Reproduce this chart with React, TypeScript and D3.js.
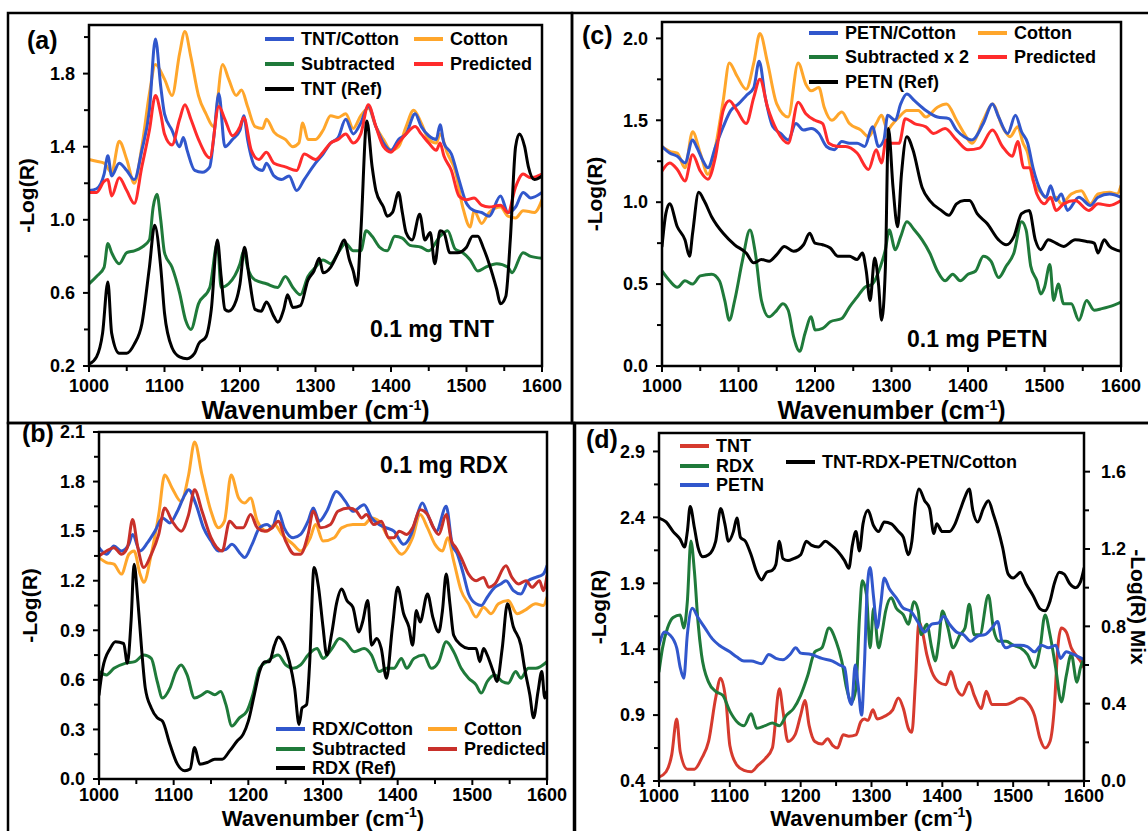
import React from 'react';
import * as d3 from 'd3';

type P = [number, number];

const FONT = "'Liberation Sans', Arial, Helvetica, sans-serif";

const xMajor = [1000, 1100, 1200, 1300, 1400, 1500, 1600];
const xMinor = [1050, 1150, 1250, 1350, 1450, 1550];

// ---------- Panel (a) TNT ----------
const aYMajor = [0.2, 0.6, 1.0, 1.4, 1.8];
const aYMinor = [0.4, 0.8, 1.2, 1.6, 2.0];
const aTntCotton: P[] = [[1000,1.16],[1010,1.17],[1020,1.25],[1025,1.35],[1030,1.24],[1040,1.31],[1050,1.27],[1060,1.22],[1070,1.38],[1080,1.60],[1088,1.99],[1095,1.73],[1100,1.58],[1110,1.49],[1120,1.40],[1125,1.45],[1130,1.38],[1140,1.27],[1150,1.26],[1160,1.29],[1165,1.44],[1172,1.69],[1180,1.40],[1190,1.44],[1200,1.49],[1205,1.57],[1210,1.44],[1220,1.29],[1230,1.27],[1235,1.31],[1245,1.24],[1255,1.22],[1265,1.24],[1275,1.16],[1285,1.22],[1300,1.31],[1310,1.36],[1320,1.42],[1330,1.45],[1340,1.55],[1350,1.47],[1360,1.53],[1370,1.62],[1380,1.51],[1390,1.42],[1400,1.38],[1410,1.44],[1420,1.47],[1432,1.58],[1440,1.51],[1450,1.46],[1460,1.44],[1465,1.52],[1470,1.42],[1480,1.36],[1490,1.22],[1500,1.09],[1510,1.05],[1520,1.04],[1530,1.02],[1545,1.13],[1555,1.04],[1565,1.07],[1575,1.15],[1585,1.12],[1600,1.15]];
const aCotton: P[] = [[1000,1.33],[1010,1.32],[1020,1.31],[1030,1.26],[1040,1.43],[1050,1.33],[1060,1.20],[1070,1.40],[1080,1.69],[1088,1.85],[1100,1.77],[1110,1.68],[1120,1.91],[1127,2.03],[1135,1.89],[1145,1.68],[1155,1.58],[1165,1.51],[1177,1.85],[1185,1.77],[1195,1.68],[1202,1.71],[1210,1.62],[1220,1.51],[1230,1.50],[1235,1.55],[1245,1.48],[1260,1.44],[1270,1.40],[1278,1.42],[1283,1.53],[1290,1.44],[1300,1.44],[1310,1.49],[1320,1.57],[1330,1.56],[1340,1.58],[1350,1.50],[1360,1.57],[1370,1.61],[1380,1.51],[1390,1.44],[1400,1.38],[1410,1.40],[1420,1.51],[1430,1.60],[1440,1.53],[1450,1.44],[1460,1.42],[1465,1.47],[1475,1.36],[1485,1.27],[1495,1.07],[1505,0.96],[1510,1.05],[1520,0.98],[1530,1.04],[1545,1.07],[1555,1.02],[1565,1.01],[1575,1.05],[1590,1.04],[1600,1.11]];
const aPredicted: P[] = [[1000,1.15],[1010,1.15],[1020,1.21],[1025,1.22],[1030,1.13],[1040,1.23],[1050,1.16],[1060,1.09],[1070,1.29],[1080,1.49],[1088,1.68],[1095,1.58],[1100,1.47],[1110,1.41],[1120,1.55],[1127,1.63],[1135,1.55],[1145,1.44],[1160,1.34],[1172,1.62],[1180,1.55],[1190,1.46],[1200,1.51],[1205,1.56],[1215,1.38],[1225,1.33],[1235,1.37],[1245,1.31],[1260,1.29],[1275,1.27],[1285,1.36],[1300,1.33],[1310,1.37],[1320,1.42],[1330,1.44],[1340,1.47],[1350,1.42],[1360,1.47],[1370,1.63],[1380,1.51],[1390,1.40],[1400,1.37],[1410,1.42],[1420,1.47],[1432,1.51],[1440,1.47],[1450,1.42],[1460,1.38],[1465,1.42],[1470,1.35],[1480,1.27],[1490,1.13],[1500,1.11],[1510,1.12],[1520,1.08],[1530,1.07],[1545,1.08],[1555,1.04],[1565,1.18],[1575,1.25],[1585,1.23],[1600,1.25]];
const aSubtracted: P[] = [[1000,0.65],[1010,0.69],[1020,0.74],[1025,0.87],[1030,0.82],[1040,0.76],[1050,0.82],[1060,0.83],[1070,0.85],[1080,0.89],[1085,1.07],[1090,1.14],[1095,1.00],[1100,0.82],[1110,0.74],[1120,0.60],[1128,0.45],[1135,0.40],[1145,0.54],[1160,0.63],[1170,0.87],[1175,0.63],[1185,0.65],[1200,0.76],[1205,0.83],[1210,0.74],[1220,0.67],[1235,0.65],[1250,0.63],[1260,0.69],[1270,0.63],[1280,0.59],[1290,0.69],[1300,0.74],[1310,0.78],[1320,0.76],[1330,0.82],[1340,0.87],[1350,0.83],[1360,0.83],[1367,0.94],[1375,0.91],[1385,0.85],[1395,0.83],[1405,0.91],[1415,0.90],[1425,0.86],[1440,0.85],[1450,0.83],[1465,0.91],[1475,0.94],[1485,0.84],[1495,0.82],[1505,0.78],[1515,0.72],[1525,0.74],[1540,0.76],[1555,0.74],[1560,0.71],[1575,0.82],[1585,0.80],[1600,0.79]];
const aTntRef: P[] = [[1000,0.21],[1010,0.25],[1018,0.38],[1025,0.66],[1030,0.38],[1040,0.27],[1050,0.27],[1060,0.32],[1070,0.43],[1080,0.74],[1087,0.97],[1095,0.74],[1100,0.49],[1110,0.30],[1120,0.25],[1130,0.24],[1140,0.27],[1145,0.32],[1155,0.36],[1162,0.51],[1170,0.89],[1175,0.69],[1180,0.51],[1185,0.50],[1195,0.56],[1200,0.65],[1206,0.85],[1212,0.69],[1220,0.51],[1228,0.50],[1235,0.55],[1245,0.47],[1250,0.44],[1258,0.51],[1263,0.59],[1270,0.52],[1280,0.53],[1290,0.67],[1298,0.72],[1305,0.79],[1310,0.71],[1320,0.74],[1330,0.82],[1338,0.89],[1345,0.78],[1350,0.72],[1355,0.64],[1360,0.93],[1368,1.54],[1375,1.29],[1380,1.16],[1390,1.07],[1395,1.02],[1402,1.04],[1410,1.15],[1415,1.04],[1420,0.93],[1428,0.89],[1438,1.03],[1445,0.89],[1452,0.93],[1458,0.76],[1465,0.94],[1470,0.93],[1478,0.82],[1488,0.82],[1500,0.85],[1508,0.91],[1515,0.91],[1522,0.85],[1530,0.76],[1540,0.62],[1545,0.54],[1552,0.58],[1558,0.89],[1565,1.40],[1570,1.47],[1577,1.40],[1582,1.29],[1590,1.22],[1600,1.24]];

// ---------- Panel (c) PETN ----------
const cYMajor = [0.0, 0.5, 1.0, 1.5, 2.0];
const cYMinor = [0.25, 0.75, 1.25, 1.75];
const cPetnCotton: P[] = [[1000,1.34],[1010,1.30],[1020,1.28],[1030,1.24],[1040,1.38],[1045,1.34],[1055,1.24],[1060,1.21],[1070,1.34],[1080,1.46],[1090,1.56],[1100,1.60],[1110,1.65],[1120,1.70],[1127,1.86],[1135,1.64],[1145,1.46],[1155,1.42],[1165,1.38],[1175,1.48],[1185,1.44],[1195,1.45],[1205,1.42],[1215,1.34],[1225,1.32],[1235,1.37],[1245,1.36],[1255,1.36],[1265,1.34],[1275,1.46],[1283,1.34],[1290,1.38],[1295,1.53],[1305,1.50],[1312,1.60],[1320,1.66],[1330,1.62],[1345,1.56],[1360,1.52],[1375,1.51],[1385,1.44],[1395,1.40],[1405,1.38],[1420,1.48],[1432,1.60],[1440,1.52],[1452,1.42],[1462,1.53],[1470,1.43],[1478,1.36],[1485,1.21],[1495,1.07],[1502,1.03],[1508,1.10],[1515,1.01],[1522,1.05],[1530,0.95],[1545,1.03],[1560,0.98],[1570,1.03],[1585,1.05],[1600,1.03]];
const cCotton: P[] = [[1000,1.34],[1010,1.31],[1020,1.30],[1030,1.21],[1040,1.43],[1050,1.30],[1060,1.17],[1070,1.34],[1080,1.62],[1088,1.85],[1098,1.77],[1110,1.69],[1120,1.85],[1128,2.03],[1138,1.85],[1150,1.60],[1165,1.52],[1178,1.85],[1188,1.72],[1195,1.68],[1205,1.70],[1212,1.58],[1222,1.50],[1235,1.55],[1245,1.48],[1260,1.44],[1270,1.40],[1280,1.48],[1287,1.53],[1295,1.44],[1300,1.47],[1310,1.52],[1320,1.56],[1335,1.56],[1345,1.52],[1360,1.58],[1372,1.60],[1385,1.50],[1395,1.42],[1405,1.36],[1420,1.50],[1432,1.60],[1445,1.46],[1455,1.40],[1465,1.46],[1472,1.36],[1478,1.30],[1485,1.13],[1495,1.06],[1505,1.02],[1515,1.03],[1522,0.99],[1535,1.05],[1548,1.07],[1560,0.99],[1570,1.05],[1585,1.06],[1595,1.05],[1600,1.10]];
const cPredicted: P[] = [[1000,1.19],[1010,1.24],[1020,1.20],[1030,1.13],[1040,1.29],[1050,1.19],[1060,1.14],[1070,1.28],[1080,1.56],[1088,1.62],[1098,1.56],[1110,1.48],[1120,1.64],[1128,1.75],[1138,1.58],[1150,1.44],[1165,1.36],[1178,1.61],[1188,1.54],[1200,1.50],[1210,1.48],[1218,1.36],[1230,1.34],[1240,1.34],[1255,1.30],[1270,1.20],[1280,1.32],[1287,1.24],[1293,1.38],[1300,1.36],[1310,1.36],[1318,1.51],[1330,1.48],[1345,1.46],[1355,1.42],[1370,1.45],[1385,1.38],[1400,1.32],[1415,1.33],[1432,1.44],[1445,1.34],[1458,1.28],[1465,1.37],[1473,1.21],[1480,1.21],[1490,1.05],[1500,0.99],[1508,1.03],[1515,0.95],[1525,0.99],[1540,1.01],[1558,0.95],[1570,0.99],[1585,0.98],[1600,1.01]];
const cSubtracted2: P[] = [[1000,0.58],[1010,0.52],[1020,0.48],[1030,0.52],[1040,0.50],[1050,0.55],[1065,0.56],[1075,0.52],[1082,0.40],[1088,0.28],[1095,0.40],[1105,0.64],[1115,0.83],[1122,0.69],[1130,0.40],[1140,0.30],[1150,0.34],[1158,0.38],[1165,0.34],[1172,0.18],[1180,0.09],[1187,0.20],[1195,0.30],[1200,0.22],[1210,0.23],[1220,0.27],[1235,0.29],[1245,0.36],[1255,0.42],[1265,0.48],[1275,0.50],[1285,0.60],[1292,0.71],[1297,0.83],[1305,0.71],[1312,0.79],[1320,0.88],[1330,0.83],[1340,0.77],[1350,0.69],[1360,0.58],[1370,0.52],[1380,0.56],[1390,0.52],[1400,0.56],[1410,0.58],[1420,0.67],[1430,0.64],[1440,0.54],[1450,0.61],[1460,0.69],[1470,0.88],[1476,0.83],[1482,0.61],[1490,0.52],[1495,0.44],[1500,0.48],[1507,0.62],[1512,0.40],[1518,0.50],[1525,0.38],[1535,0.38],[1545,0.28],[1555,0.40],[1565,0.34],[1575,0.35],[1590,0.37],[1600,0.39]];
const cPetnRef: P[] = [[1000,0.73],[1005,0.93],[1010,0.99],[1020,0.85],[1030,0.77],[1036,0.67],[1040,0.81],[1048,1.06],[1055,1.01],[1065,0.91],[1080,0.81],[1095,0.74],[1110,0.69],[1120,0.63],[1130,0.65],[1140,0.64],[1150,0.68],[1160,0.73],[1172,0.70],[1185,0.74],[1193,0.81],[1200,0.75],[1210,0.74],[1220,0.72],[1230,0.67],[1245,0.67],[1255,0.65],[1262,0.69],[1267,0.58],[1272,0.40],[1278,0.66],[1283,0.50],[1287,0.28],[1292,0.60],[1296,1.45],[1302,1.09],[1308,0.85],[1313,1.17],[1320,1.40],[1328,1.32],[1340,1.09],[1350,1.01],[1365,0.95],[1375,0.92],[1385,0.99],[1395,1.01],[1402,1.01],[1412,0.93],[1425,0.87],[1440,0.77],[1450,0.74],[1460,0.79],[1470,0.93],[1480,0.95],[1488,0.77],[1495,0.71],[1505,0.77],[1515,0.75],[1525,0.73],[1540,0.77],[1555,0.76],[1565,0.75],[1570,0.69],[1578,0.77],[1585,0.73],[1600,0.70]];

// ---------- Panel (b) RDX ----------
const bYMajor = [0.0, 0.3, 0.6, 0.9, 1.2, 1.5, 1.8, 2.1];
const bYMinor = [0.15, 0.45, 0.75, 1.05, 1.35, 1.65, 1.95];
const bRdxCotton: P[] = [[1000,1.40],[1010,1.36],[1020,1.41],[1030,1.38],[1040,1.42],[1045,1.48],[1055,1.38],[1065,1.43],[1075,1.50],[1085,1.58],[1095,1.55],[1105,1.62],[1115,1.72],[1120,1.75],[1130,1.66],[1140,1.52],[1150,1.44],[1160,1.38],[1170,1.39],[1178,1.42],[1190,1.36],[1195,1.34],[1205,1.42],[1215,1.52],[1225,1.54],[1232,1.52],[1240,1.62],[1248,1.52],[1260,1.46],[1270,1.48],[1280,1.56],[1287,1.64],[1295,1.56],[1305,1.62],[1318,1.74],[1330,1.68],[1340,1.62],[1355,1.66],[1365,1.58],[1375,1.54],[1385,1.52],[1395,1.50],[1408,1.42],[1418,1.48],[1425,1.58],[1433,1.67],[1442,1.58],[1452,1.50],[1465,1.65],[1473,1.42],[1480,1.36],[1488,1.24],[1495,1.12],[1505,1.06],[1512,1.05],[1520,1.10],[1530,1.16],[1538,1.18],[1545,1.20],[1555,1.14],[1565,1.12],[1575,1.20],[1585,1.22],[1595,1.24],[1600,1.29]];
const bCotton: P[] = [[1000,1.34],[1010,1.31],[1020,1.30],[1030,1.24],[1040,1.36],[1047,1.38],[1055,1.24],[1060,1.19],[1070,1.36],[1080,1.60],[1088,1.84],[1098,1.76],[1110,1.68],[1120,1.84],[1128,2.04],[1138,1.84],[1150,1.62],[1160,1.52],[1168,1.56],[1177,1.84],[1187,1.70],[1195,1.67],[1203,1.70],[1212,1.56],[1225,1.50],[1235,1.54],[1245,1.48],[1260,1.42],[1270,1.38],[1283,1.46],[1290,1.54],[1300,1.44],[1315,1.46],[1325,1.52],[1340,1.54],[1355,1.54],[1365,1.58],[1375,1.56],[1385,1.48],[1395,1.41],[1405,1.36],[1420,1.46],[1430,1.60],[1440,1.52],[1450,1.42],[1460,1.38],[1467,1.46],[1475,1.32],[1485,1.14],[1495,1.06],[1505,0.98],[1515,1.04],[1525,1.00],[1535,1.06],[1548,1.08],[1560,1.00],[1570,1.02],[1585,1.06],[1595,1.05],[1600,1.10]];
const bPredicted: P[] = [[1000,1.35],[1010,1.38],[1020,1.40],[1030,1.36],[1038,1.40],[1045,1.57],[1052,1.40],[1060,1.28],[1070,1.36],[1080,1.48],[1088,1.64],[1098,1.56],[1110,1.50],[1120,1.60],[1128,1.75],[1138,1.62],[1150,1.46],[1165,1.38],[1175,1.56],[1185,1.52],[1193,1.52],[1203,1.60],[1212,1.52],[1222,1.50],[1232,1.52],[1240,1.56],[1250,1.44],[1262,1.36],[1270,1.36],[1280,1.48],[1287,1.62],[1297,1.52],[1310,1.54],[1320,1.62],[1335,1.64],[1345,1.62],[1352,1.58],[1358,1.60],[1368,1.54],[1378,1.56],[1388,1.46],[1395,1.46],[1402,1.50],[1412,1.48],[1420,1.52],[1430,1.63],[1440,1.60],[1448,1.52],[1455,1.48],[1465,1.60],[1472,1.44],[1478,1.40],[1485,1.34],[1495,1.24],[1505,1.20],[1515,1.22],[1522,1.16],[1530,1.18],[1545,1.29],[1553,1.22],[1562,1.18],[1572,1.20],[1580,1.16],[1590,1.20],[1595,1.14],[1600,1.23]];
const bSubtracted: P[] = [[1000,0.65],[1010,0.63],[1020,0.67],[1035,0.70],[1048,0.71],[1060,0.75],[1070,0.73],[1078,0.59],[1085,0.49],[1095,0.55],[1103,0.65],[1110,0.69],[1118,0.63],[1128,0.49],[1138,0.51],[1145,0.53],[1155,0.51],[1163,0.53],[1170,0.45],[1178,0.32],[1188,0.37],[1198,0.41],[1206,0.51],[1215,0.67],[1225,0.71],[1240,0.75],[1250,0.69],[1260,0.67],[1270,0.69],[1280,0.75],[1292,0.79],[1300,0.73],[1312,0.79],[1322,0.85],[1330,0.83],[1342,0.77],[1355,0.79],[1365,0.75],[1375,0.65],[1385,0.67],[1395,0.67],[1405,0.73],[1412,0.67],[1422,0.73],[1435,0.75],[1445,0.67],[1455,0.71],[1465,0.83],[1475,0.77],[1485,0.67],[1495,0.61],[1505,0.57],[1512,0.52],[1520,0.59],[1530,0.63],[1540,0.59],[1548,0.58],[1558,0.65],[1565,0.61],[1575,0.67],[1585,0.67],[1600,0.71]];
const bRdxRef: P[] = [[1000,0.51],[1005,0.67],[1015,0.79],[1022,0.83],[1033,0.82],[1038,0.70],[1043,0.96],[1047,1.30],[1052,1.08],[1057,0.79],[1062,0.55],[1070,0.43],[1078,0.37],[1085,0.35],[1095,0.21],[1105,0.09],[1115,0.05],[1122,0.06],[1128,0.19],[1135,0.09],[1145,0.10],[1155,0.12],[1165,0.12],[1175,0.17],[1185,0.23],[1193,0.27],[1200,0.35],[1208,0.51],[1215,0.65],[1222,0.71],[1228,0.71],[1235,0.81],[1240,0.86],[1248,0.81],[1255,0.71],[1262,0.55],[1268,0.33],[1272,0.43],[1278,0.45],[1282,0.69],[1288,1.28],[1294,1.16],[1300,0.92],[1305,0.75],[1312,0.89],[1318,1.06],[1325,1.15],[1332,1.08],[1340,1.04],[1348,0.89],[1353,0.95],[1360,1.08],[1365,0.81],[1372,0.85],[1378,0.79],[1385,0.61],[1393,0.92],[1400,1.16],[1408,1.00],[1415,0.92],[1420,0.81],[1425,1.02],[1430,0.95],[1440,1.12],[1447,0.98],[1455,0.89],[1460,1.02],[1465,1.24],[1470,1.06],[1475,0.87],[1485,0.81],[1495,0.79],[1505,0.79],[1510,0.71],[1515,0.79],[1520,0.75],[1528,0.65],[1533,0.59],[1540,0.79],[1547,1.06],[1555,0.92],[1565,0.81],[1570,0.67],[1577,0.51],[1582,0.37],[1588,0.53],[1593,0.65],[1597,0.49],[1600,0.53]];

// ---------- Panel (d) mixture ----------
const dYMajor = [0.4, 0.9, 1.4, 1.9, 2.4, 2.9];
const dYMinor = [0.65, 1.15, 1.65, 2.15, 2.65];
const dRMajor = [0.0, 0.4, 0.8, 1.2, 1.6];
const dRMinor = [0.2, 0.6, 1.0, 1.4];
const dTnt: P[] = [[1000,0.43],[1010,0.47],[1018,0.60],[1025,0.87],[1030,0.62],[1040,0.49],[1050,0.49],[1060,0.57],[1070,0.70],[1080,1.03],[1087,1.18],[1095,0.98],[1100,0.67],[1110,0.52],[1120,0.48],[1130,0.47],[1140,0.52],[1150,0.57],[1160,0.65],[1170,1.10],[1175,0.93],[1182,0.70],[1192,0.75],[1200,0.90],[1206,1.01],[1212,0.82],[1220,0.70],[1230,0.68],[1238,0.72],[1245,0.67],[1252,0.65],[1260,0.75],[1268,0.74],[1278,0.75],[1285,0.85],[1290,0.87],[1295,0.86],[1302,0.94],[1308,0.87],[1318,0.89],[1330,0.94],[1338,1.03],[1345,0.95],[1352,0.80],[1357,0.77],[1362,1.15],[1367,1.61],[1372,1.53],[1378,1.36],[1385,1.23],[1395,1.15],[1405,1.13],[1412,1.23],[1420,1.10],[1428,1.05],[1438,1.15],[1445,1.05],[1455,0.95],[1462,1.08],[1470,0.98],[1480,0.98],[1490,0.98],[1500,1.00],[1510,1.03],[1520,1.00],[1530,0.90],[1538,0.72],[1545,0.65],[1552,0.70],[1558,0.95],[1563,1.41],[1568,1.56],[1575,1.53],[1582,1.41],[1588,1.36],[1595,1.31],[1600,1.26]];
const dRdx: P[] = [[1000,1.23],[1005,1.41],[1012,1.56],[1020,1.64],[1030,1.66],[1035,1.56],[1040,1.76],[1045,2.22],[1050,1.99],[1055,1.61],[1060,1.36],[1070,1.15],[1080,1.08],[1090,1.05],[1100,0.93],[1110,0.85],[1120,0.82],[1130,0.91],[1138,0.80],[1150,0.82],[1160,0.84],[1170,0.82],[1180,0.90],[1190,0.95],[1200,1.05],[1210,1.20],[1220,1.38],[1230,1.41],[1240,1.56],[1250,1.46],[1258,1.31],[1265,1.10],[1272,1.00],[1278,1.10],[1283,1.64],[1287,1.92],[1293,1.81],[1298,1.41],[1303,1.71],[1310,1.41],[1315,1.53],[1320,1.69],[1328,1.79],[1335,1.71],[1345,1.66],[1352,1.59],[1360,1.76],[1366,1.69],[1370,1.51],[1378,1.59],[1385,1.41],[1390,1.31],[1395,1.46],[1400,1.69],[1408,1.56],[1415,1.41],[1425,1.51],[1432,1.56],[1438,1.74],[1445,1.51],[1453,1.51],[1465,1.81],[1472,1.56],[1480,1.46],[1490,1.46],[1500,1.43],[1510,1.41],[1520,1.36],[1530,1.26],[1538,1.41],[1545,1.66],[1552,1.51],[1560,1.26],[1568,1.00],[1575,1.20],[1582,1.36],[1590,1.15],[1595,1.26],[1600,1.33]];
const dPetn: P[] = [[1000,1.43],[1008,1.53],[1015,1.51],[1025,1.41],[1030,1.26],[1035,1.18],[1040,1.51],[1047,1.71],[1055,1.64],[1065,1.56],[1075,1.48],[1085,1.43],[1100,1.38],[1110,1.34],[1120,1.31],[1130,1.31],[1145,1.29],[1155,1.36],[1165,1.33],[1175,1.32],[1185,1.36],[1193,1.41],[1200,1.37],[1215,1.36],[1230,1.33],[1245,1.31],[1255,1.28],[1262,1.26],[1268,1.03],[1272,0.98],[1277,1.28],[1281,1.13],[1286,0.90],[1290,1.28],[1294,1.86],[1298,2.02],[1303,1.79],[1308,1.56],[1313,1.74],[1318,1.94],[1325,1.86],[1335,1.79],[1345,1.71],[1355,1.69],[1365,1.61],[1375,1.53],[1385,1.59],[1395,1.60],[1402,1.65],[1410,1.59],[1420,1.53],[1430,1.51],[1440,1.46],[1450,1.50],[1460,1.51],[1470,1.56],[1478,1.61],[1484,1.46],[1490,1.41],[1500,1.43],[1510,1.43],[1520,1.42],[1530,1.38],[1540,1.43],[1550,1.41],[1560,1.43],[1567,1.33],[1575,1.38],[1585,1.36],[1600,1.32]];
const dMix: P[] = [[1000,1.36],[1010,1.34],[1020,1.29],[1030,1.25],[1036,1.21],[1040,1.29],[1044,1.42],[1050,1.31],[1055,1.21],[1062,1.16],[1070,1.17],[1080,1.24],[1087,1.41],[1093,1.33],[1098,1.24],[1105,1.29],[1110,1.36],[1115,1.26],[1122,1.24],[1130,1.17],[1138,1.08],[1145,1.04],[1152,1.08],[1160,1.09],[1165,1.12],[1170,1.24],[1175,1.15],[1182,1.14],[1190,1.15],[1200,1.17],[1208,1.24],[1215,1.22],[1225,1.21],[1235,1.24],[1243,1.22],[1252,1.19],[1262,1.14],[1268,1.10],[1273,1.22],[1278,1.29],[1283,1.19],[1288,1.33],[1295,1.40],[1303,1.32],[1310,1.29],[1318,1.34],[1328,1.33],[1338,1.29],[1345,1.26],[1352,1.17],[1357,1.24],[1362,1.43],[1367,1.51],[1375,1.45],[1382,1.41],[1388,1.28],[1392,1.33],[1400,1.29],[1410,1.29],[1418,1.33],[1425,1.40],[1432,1.47],[1438,1.51],[1443,1.40],[1450,1.34],[1458,1.41],[1465,1.45],[1472,1.38],[1478,1.31],[1485,1.21],[1493,1.07],[1500,1.05],[1507,1.07],[1510,1.08],[1518,1.02],[1528,0.96],[1538,0.89],[1545,0.88],[1552,0.93],[1558,1.02],[1565,1.08],[1572,1.07],[1580,1.02],[1588,1.00],[1595,1.03],[1600,1.10]];

const BLUE = '#3157cc';
const ORANGE = '#ffa62b';
const GREEN = '#1f7a3a';
const RED = '#ff2b2b';
const DARKRED = '#c8302a';
const TNTRED = '#d63a2e';
const BLACK = '#000000';

interface Series { data: P[]; color: string; right?: boolean }
interface LegendItem { label: string; color: string; x: number; y: number }

interface PanelProps {
  id: string;
  l: number; t: number; r: number; b: number;
  yDomain: [number, number];
  yMajor: number[]; yMinor: number[];
  series: Series[];
  legend: LegendItem[];
  legendSize: number;
  yTitleX: number;
  xTitleY: number;
  xTitleSize: number;
  xLabelOffset: number;
  right?: { domain: [number, number]; major: number[]; minor: number[]; titleX: number };
}

function Panel(p: PanelProps) {
  const x = d3.scaleLinear().domain([1000, 1600]).range([p.l, p.r]);
  const y = d3.scaleLinear().domain(p.yDomain).range([p.b, p.t]);
  const yR = p.right ? d3.scaleLinear().domain(p.right.domain).range([p.b, p.t]) : y;
  const path = (s: Series) => {
    const sc = s.right ? yR : y;
    return d3.line<P>().x(d => x(d[0])).y(d => sc(d[1])).curve(d3.curveMonotoneX)(s.data) || '';
  };
  const midY = (p.t + p.b) / 2;
  const midX = (p.l + p.r) / 2;
  return (
    <g>
      <defs>
        <clipPath id={p.id}>
          <rect x={p.l} y={p.t} width={p.r - p.l} height={p.b - p.t} />
        </clipPath>
      </defs>
      <g clipPath={`url(#${p.id})`}>
        {p.series.map((s, i) => (
          <path key={i} d={path(s)} fill="none" stroke={s.color} strokeWidth={3} strokeLinejoin="round" strokeLinecap="round" />
        ))}
        {p.legend.map((it, i) => (
          <g key={i}>
            <line x1={it.x} x2={it.x + 29} y1={it.y} y2={it.y} stroke={it.color} strokeWidth={4} />
            <text x={it.x + 36} y={it.y} dominantBaseline="central" fontSize={p.legendSize} fontWeight="bold" fontFamily={FONT}>{it.label}</text>
          </g>
        ))}
      </g>
      <rect x={p.l} y={p.t} width={p.r - p.l} height={p.b - p.t} fill="none" stroke="#000" strokeWidth={2.5} />
      {xMajor.map(v => (
        <g key={'xm' + v}>
          <line x1={x(v)} x2={x(v)} y1={p.b} y2={p.b + 6} stroke="#000" strokeWidth={2} />
          <text x={x(v)} y={p.b + p.xLabelOffset} textAnchor="middle" fontSize={18} fontWeight="bold" fontFamily={FONT}>{v}</text>
        </g>
      ))}
      {xMinor.map(v => (
        <line key={'xn' + v} x1={x(v)} x2={x(v)} y1={p.b} y2={p.b + 5} stroke="#000" strokeWidth={2} />
      ))}
      {p.yMajor.map(v => (
        <g key={'ym' + v}>
          <line x1={p.l - 6} x2={p.l} y1={y(v)} y2={y(v)} stroke="#000" strokeWidth={2} />
          <text x={p.l - 14} y={y(v)} dy="0.35em" textAnchor="end" fontSize={18} fontWeight="bold" fontFamily={FONT}>{v.toFixed(1)}</text>
        </g>
      ))}
      {p.yMinor.map(v => (
        <line key={'yn' + v} x1={p.l - 5} x2={p.l} y1={y(v)} y2={y(v)} stroke="#000" strokeWidth={2} />
      ))}
      {p.right && p.right.major.map(v => (
        <g key={'rm' + v}>
          <line x1={p.r} x2={p.r + 6} y1={yR(v)} y2={yR(v)} stroke="#000" strokeWidth={2} />
          <text x={p.r + 17} y={yR(v)} dy="0.35em" textAnchor="start" fontSize={18} fontWeight="bold" fontFamily={FONT}>{v.toFixed(1)}</text>
        </g>
      ))}
      {p.right && p.right.minor.map(v => (
        <line key={'rn' + v} x1={p.r} x2={p.r + 5} y1={yR(v)} y2={yR(v)} stroke="#000" strokeWidth={2} />
      ))}
      <text transform={`translate(${p.yTitleX},${midY}) rotate(-90)`} textAnchor="middle" dominantBaseline="central" fontSize={21} fontWeight="bold" fontFamily={FONT}>-Log(R)</text>
      {p.right && (
        <text transform={`translate(${p.right.titleX},${midY}) rotate(90)`} textAnchor="middle" dominantBaseline="central" fontSize={21} fontWeight="bold" fontFamily={FONT}>-Log(R) Mix</text>
      )}
      <text x={midX} y={p.xTitleY} textAnchor="middle" fontSize={p.xTitleSize} fontWeight="bold" fontFamily={FONT}>
        Wavenumber (cm<tspan dy={-9} fontSize={14}>-1</tspan><tspan dy={9}>)</tspan>
      </text>
    </g>
  );
}

export default function App() {
  return (
    <svg width={1148} height={831} style={{ position: 'absolute', left: 0, top: 0, background: '#fff' }} fontFamily={FONT}>
      <rect x={0} y={0} width={1148} height={831} fill="#fff" />
      {/* panel boxes */}
      <rect x={8} y={13} width={564} height={410} fill="none" stroke="#000" strokeWidth={2.5} />
      <rect x={572} y={13} width={590} height={410} fill="none" stroke="#000" strokeWidth={2.5} />
      <rect x={8} y={423} width={566} height={420} fill="none" stroke="#000" strokeWidth={2.5} />
      <rect x={575} y={423} width={590} height={420} fill="none" stroke="#000" strokeWidth={2.5} />

      <Panel id="clipA" l={89} t={25} r={542} b={366} yDomain={[0.2, 2.066]} yMajor={aYMajor} yMinor={aYMinor}
        series={[
          { data: aCotton, color: ORANGE },
          { data: aTntCotton, color: BLUE },
          { data: aPredicted, color: RED },
          { data: aSubtracted, color: GREEN },
          { data: aTntRef, color: BLACK },
        ]}
        legend={[
          { label: 'TNT/Cotton', color: BLUE, x: 265, y: 39 },
          { label: 'Cotton', color: ORANGE, x: 414, y: 39 },
          { label: 'Subtracted', color: GREEN, x: 265, y: 64 },
          { label: 'Predicted', color: RED, x: 414, y: 64 },
          { label: 'TNT (Ref)', color: BLACK, x: 265, y: 89 },
        ]}
        legendSize={18} yTitleX={26} xTitleY={419} xTitleSize={25} xLabelOffset={26} />

      <Panel id="clipC" l={662} t={22} r={1121} b={366} yDomain={[0, 2.1]} yMajor={cYMajor} yMinor={cYMinor}
        series={[
          { data: cCotton, color: ORANGE },
          { data: cPetnCotton, color: BLUE },
          { data: cPredicted, color: RED },
          { data: cSubtracted2, color: GREEN },
          { data: cPetnRef, color: BLACK },
        ]}
        legend={[
          { label: 'PETN/Cotton', color: BLUE, x: 809, y: 33 },
          { label: 'Cotton', color: ORANGE, x: 978, y: 33 },
          { label: 'Subtracted x 2', color: GREEN, x: 809, y: 57 },
          { label: 'Predicted', color: RED, x: 978, y: 57 },
          { label: 'PETN (Ref)', color: BLACK, x: 809, y: 82 },
        ]}
        legendSize={18} yTitleX={594} xTitleY={419} xTitleSize={25} xLabelOffset={26} />

      <Panel id="clipB" l={99} t={432} r={547} b={779} yDomain={[0, 2.1]} yMajor={bYMajor} yMinor={bYMinor}
        series={[
          { data: bCotton, color: ORANGE },
          { data: bRdxCotton, color: BLUE },
          { data: bPredicted, color: DARKRED },
          { data: bSubtracted, color: GREEN },
          { data: bRdxRef, color: BLACK },
        ]}
        legend={[
          { label: 'RDX/Cotton', color: BLUE, x: 276, y: 729 },
          { label: 'Cotton', color: ORANGE, x: 428, y: 729 },
          { label: 'Subtracted', color: GREEN, x: 276, y: 749 },
          { label: 'Predicted', color: DARKRED, x: 428, y: 749 },
          { label: 'RDX (Ref)', color: BLACK, x: 276, y: 768 },
        ]}
        legendSize={18} yTitleX={29} xTitleY={826} xTitleSize={22} xLabelOffset={22} />

      <Panel id="clipD" l={659} t={433} r={1084} b={781} yDomain={[0.4, 3.04]} yMajor={dYMajor} yMinor={dYMinor}
        right={{ domain: [0, 1.8], major: dRMajor, minor: dRMinor, titleX: 1138 }}
        series={[
          { data: dMix, color: BLACK, right: true },
          { data: dTnt, color: TNTRED },
          { data: dRdx, color: GREEN },
          { data: dPetn, color: BLUE },
        ]}
        legend={[
          { label: 'TNT', color: TNTRED, x: 680, y: 446 },
          { label: 'RDX', color: GREEN, x: 680, y: 466 },
          { label: 'PETN', color: BLUE, x: 680, y: 485 },
          { label: 'TNT-RDX-PETN/Cotton', color: BLACK, x: 786, y: 462 },
        ]}
        legendSize={18} yTitleX={598} xTitleY={826} xTitleSize={22} xLabelOffset={21} />

      {/* panel labels and annotations */}
      <text x={27} y={49} fontSize={25} fontWeight="bold">(a)</text>
      <text x={582} y={44} fontSize={25} fontWeight="bold">(c)</text>
      <text x={22} y={442} fontSize={25} fontWeight="bold">(b)</text>
      <text x={586} y={448} fontSize={25} fontWeight="bold">(d)</text>
      <text x={370} y={337} fontSize={23} fontWeight="bold">0.1 mg TNT</text>
      <text x={907} y={347} fontSize={23} fontWeight="bold">0.1 mg PETN</text>
      <text x={380} y={473} fontSize={23} fontWeight="bold">0.1 mg RDX</text>
    </svg>
  );
}
